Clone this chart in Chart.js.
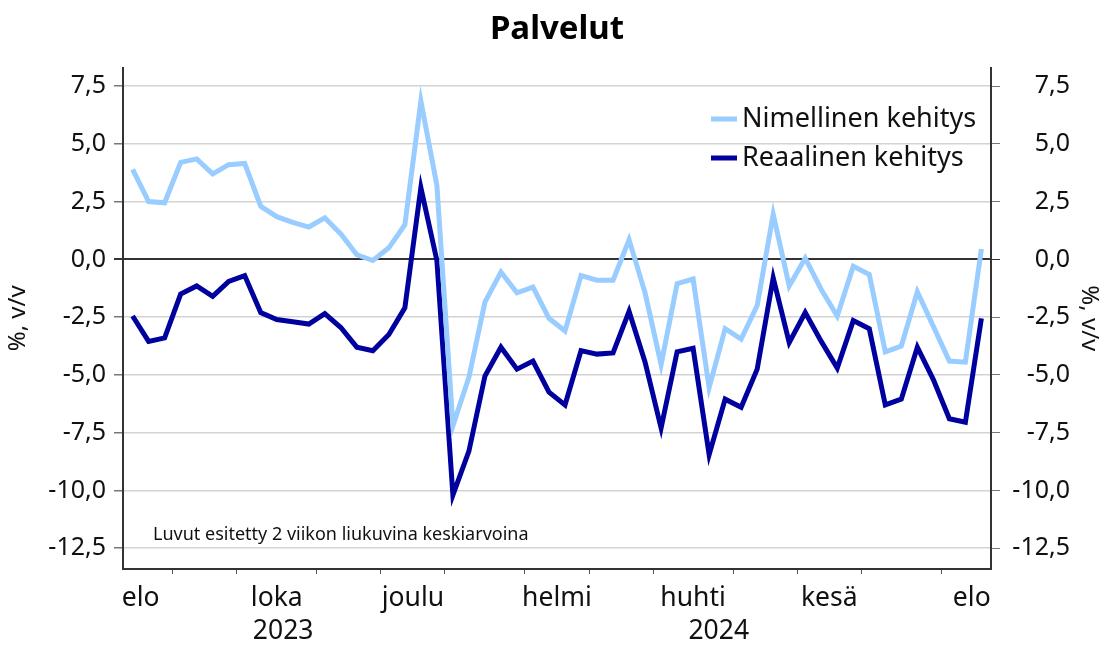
<!DOCTYPE html>
<html lang="fi">
<head>
    <meta charset="UTF-8">
    <title>Palvelut</title>
    <script src="https://cdn.jsdelivr.net/npm/chart.js@4.4.1/dist/chart.umd.min.js"></script>
    <style>
        body { margin: 0; background: #fff; }
        #wrap { width: 1105px; height: 647px; position: relative; }
    </style>
</head>
<body>
    <div id="wrap">
        <canvas id="palvelutChart"></canvas>
    </div>

    <script>
        // viikkodata, 2 viikon liukuva keskiarvo (elo 2023 - elo 2024)
        const nimellinen = [
            3.9, 2.5, 2.45, 4.2, 4.35, 3.7, 4.1, 4.15, 2.3, 1.85,
            1.6, 1.4, 1.8, 1.1, 0.2, -0.05, 0.5, 1.5, 6.85, 3.2,
            -7.2, -5.1, -1.85, -0.55, -1.45, -1.2, -2.55, -3.1, -0.7, -0.9,
            -0.9, 0.85, -1.45, -4.55, -1.05, -0.85, -5.55, -3.0, -3.45, -2.0,
            1.95, -1.15, 0.05, -1.3, -2.45, -0.3, -0.65, -4.0, -3.75, -1.4,
            -2.9, -4.4, -4.45, 0.45
        ];
        const reaalinen = [
            -2.45, -3.55, -3.4, -1.5, -1.15, -1.6, -0.95, -0.7, -2.3, -2.6,
            -2.7, -2.8, -2.35, -2.95, -3.8, -3.95, -3.25, -2.1, 3.1, -0.05,
            -10.2, -8.3, -5.05, -3.8, -4.75, -4.4, -5.75, -6.3, -3.95, -4.1,
            -4.05, -2.25, -4.45, -7.3, -4.0, -3.85, -8.45, -6.05, -6.4, -4.75,
            -0.8, -3.6, -2.3, -3.55, -4.7, -2.65, -3.0, -6.3, -6.05, -3.8,
            -5.2, -6.9, -7.05, -2.55
        ];

        const monthLabels = ['elo', 'loka', 'joulu', 'helmi', 'huhti', 'kesä', 'elo'];
        const monthLabelPos = [0.5, 9, 17.5, 26.5, 35, 43.5, 52.4];
        const yearLabels = ['2023', '2024'];
        const yearLabelPos = [9.4, 36.6];
        const monthEdges = [2.5, 6.5, 11.5, 15.5, 19.5, 24.5, 28.5, 32.5, 37.5, 41.5, 45.5, 50.5];
        const yTicks = [-12.5, -10, -7.5, -5, -2.5, 0, 2.5, 5, 7.5];

        const noteText = 'Luvut esitetty 2 viikon liukuvina keskiarvoina';
        const FONT = "'Noto Sans', sans-serif";

        const xLabelMap = new Map();
        monthEdges.forEach(v => xLabelMap.set(v, ''));
        monthLabelPos.forEach((v, i) => xLabelMap.set(v, monthLabels[i]));
        yearLabelPos.forEach((v, i) => xLabelMap.set(v, ['', yearLabels[i]]));

        const fmt = v => v.toFixed(1).replace('.', ',');

        // oma selite ja alaviite kuvaajan sisään
        const legendAndNote = {
            id: 'legendAndNote',
            afterDraw(chart) {
                const ctx = chart.ctx;
                ctx.save();
                chart.data.datasets.forEach((ds, i) => {
                    const y = 119 + i * 39;
                    ctx.strokeStyle = ds.borderColor;
                    ctx.lineWidth = 5;
                    ctx.beginPath();
                    ctx.moveTo(711, y);
                    ctx.lineTo(737, y);
                    ctx.stroke();
                    ctx.fillStyle = '#111';
                    ctx.font = '27px ' + FONT;
                    ctx.textBaseline = 'middle';
                    ctx.textAlign = 'left';
                    ctx.fillText(ds.label, 742, y);
                });
                ctx.font = '18px ' + FONT;
                ctx.fillStyle = '#111';
                ctx.textBaseline = 'middle';
                ctx.fillText(noteText, 153, 535);
                ctx.restore();
            }
        };

        const data = {
            datasets: [{
                label: 'Nimellinen kehitys',
                data: nimellinen.map((v, i) => ({ x: i, y: v })),
                borderColor: '#99ccff',
                borderWidth: 5,
                pointRadius: 0,
                tension: 0
            }, {
                label: 'Reaalinen kehitys',
                data: reaalinen.map((v, i) => ({ x: i, y: v })),
                borderColor: '#00009f',
                borderWidth: 5,
                pointRadius: 0,
                tension: 0
            }]
        };

        const yAxisBase = {
            min: -13.4,
            max: 8.3,
            afterBuildTicks: s => { s.ticks = yTicks.map(v => ({ value: v })); },
            border: { color: '#333', width: 2 }
        };

        const config = {
            type: 'line',
            data: data,
            options: {
                responsive: true,
                maintainAspectRatio: false,
                animation: false,
                layout: { padding: { left: 0, top: 0, bottom: 0, right: 35 } },
                plugins: {
                    legend: { display: false },
                    tooltip: { enabled: false },
                    title: {
                        display: true,
                        fullSize: false, // keskitetään piirtoalueen yläpuolelle
                        text: 'Palvelut',
                        color: '#000',
                        font: { family: FONT, size: 33, weight: 'bold', lineHeight: 1.2 },
                        padding: { top: 10, bottom: 18 }
                    }
                },
                scales: {
                    x: {
                        type: 'linear',
                        min: -0.6,
                        max: 53.6,
                        afterBuildTicks: s => {
                            s.ticks = [...xLabelMap.keys()].sort((a, b) => a - b).map(v => ({ value: v }));
                        },
                        ticks: {
                            autoSkip: false,
                            maxRotation: 0,
                            minRotation: 0,
                            padding: 7,
                            color: '#111',
                            font: { family: FONT, size: 26.5, lineHeight: 1.28 },
                            callback: v => xLabelMap.has(v) ? xLabelMap.get(v) : ''
                        },
                        grid: {
                            drawOnChartArea: false,
                            tickLength: 5,
                            tickColor: c => monthEdges.includes(c.tick.value) ? '#555' : 'rgba(0,0,0,0)'
                        },
                        border: { color: '#333', width: 2 },
                        afterFit: s => { s.height = 78; }
                    },
                    y: Object.assign({}, yAxisBase, {
                        position: 'left',
                        ticks: { callback: fmt, color: '#111', padding: 8, font: { family: FONT, size: 25 } },
                        grid: {
                            color: c => c.tick.value === 0 ? '#333' : '#d3d3d3',
                            lineWidth: c => c.tick.value === 0 ? 2 : 1.5,
                            tickLength: 9,
                            tickColor: c => c.tick.value === 0 ? '#333' : '#777'
                        },
                        title: { display: true, text: '%, v/v', color: '#111', font: { family: FONT, size: 24, lineHeight: 1.2 }, padding: { top: 4 } },
                        afterFit: s => { s.width = 123; }
                    }),
                    y2: Object.assign({}, yAxisBase, {
                        position: 'right',
                        ticks: { callback: fmt, color: '#111', padding: 18, crossAlign: 'far', font: { family: FONT, size: 25 } },
                        grid: {
                            drawOnChartArea: false,
                            tickLength: 9,
                            tickColor: c => c.tick.value === 0 ? '#333' : '#777'
                        },
                        // titteli siirretään akselin ulkopuolelle (oikea reunus)
                        title: { display: true, text: '%, v/v', color: '#111', font: { family: FONT, size: 24, lineHeight: 1.2 }, padding: { top: -33 } },
                        afterFit: s => { s.width = 79; }
                    })
                }
            },
            plugins: [legendAndNote]
        };

        const palvelutChart = new Chart(document.getElementById('palvelutChart'), config);
    </script>
</body>
</html>
